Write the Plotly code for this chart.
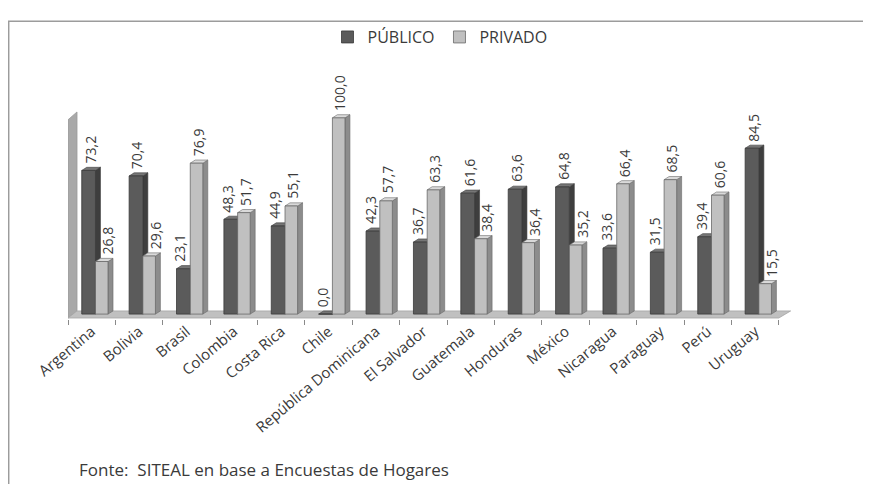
import plotly.graph_objects as go

categories = ["Argentina", "Bolivia", "Brasil", "Colombia", "Costa Rica", "Chile",
              "República Dominicana", "El Salvador", "Guatemala", "Honduras", "México",
              "Nicaragua", "Paraguay", "Perú", "Uruguay"]
publico = [73.2, 70.4, 23.1, 48.3, 44.9, 0.0, 42.3, 36.7, 61.6, 63.6, 64.8, 33.6, 31.5, 39.4, 84.5]
privado = [26.8, 29.6, 76.9, 51.7, 55.1, 100.0, 57.7, 63.3, 38.4, 36.4, 35.2, 66.4, 68.5, 60.6, 15.5]
series_names = ["PÚBLICO", "PRIVADO"]
source_text = "Fonte:  SITEAL en base a Encuestas de Hogares"

# the page body adds an 8px margin, so the figure is 8px smaller
PAGE_OFF = 8
W, H = 871 - PAGE_OFF, 484 - PAGE_OFF
L, T = 60, 99
PLOT_W, PLOT_H = 725, 212
XR = [-0.5, 14.8]
YR = [-2.5, 104]
FONT = "'Open Sans', Lato, sans-serif"
TXT = "#3a3a3a"

def fmt(v):
    return f"{v:.1f}".replace(".", ",")

def px_x(px):
    return (px - PAGE_OFF - L) / PLOT_W

def px_y(py):
    return (T + PLOT_H - (py - PAGE_OFF)) / PLOT_H

specs = [
    dict(vals=publico, other=privado, off=-0.21, w=0.29, front="#5b5b5b", side="#3e3e3e",
         top="#767676", line="#3a3a3a", shift_low=-0.07, shift_high=0.03),
    dict(vals=privado, other=publico, off=0.08, w=0.265, front="#c0c0c0", side="#8c8c8c",
         top="#dadada", line="#6a6a6a", shift_low=0.13, shift_high=0.03),
]
DX, DY = 0.105, 1.6

fig = go.Figure()
shapes = []
annotations = []

# back wall and floor
shapes.append(dict(type="path", xref="x", yref="y", layer="below",
                   path="M -0.5 -2 L -0.5 99 L -0.31 103 L -0.31 1.6 Z",
                   fillcolor="#a9a9a9", line=dict(color="#9a9a9a", width=0.8)))
shapes.append(dict(type="path", xref="x", yref="y", layer="below",
                   path="M -0.5 -2 L 14.5 -2 L 14.75 1.6 L -0.31 1.6 Z",
                   fillcolor="#c0c0c0", line=dict(color="#a4a4a4", width=0.8)))

for s, name in zip(specs, series_names):
    fig.add_trace(go.Bar(
        x=categories, y=s["vals"], name=name,
        offset=s["off"], width=s["w"],
        marker=dict(color=s["front"], line=dict(color=s["line"], width=0.8)),
        cliponaxis=False,
    ))
    for j, (v, o) in enumerate(zip(s["vals"], s["other"])):
        x0 = j + s["off"]
        x1 = x0 + s["w"]
        shapes.append(dict(type="path", xref="x", yref="y", layer="below",
                           path=f"M {x1} 0 L {x1} {v} L {x1+DX} {v+DY} L {x1+DX} {DY} Z",
                           fillcolor=s["side"], line=dict(color=s["line"], width=0.6)))
        shapes.append(dict(type="path", xref="x", yref="y", layer="below",
                           path=f"M {x0} {v} L {x1} {v} L {x1+DX} {v+DY} L {x0+DX} {v+DY} Z",
                           fillcolor=s["top"], line=dict(color=s["line"], width=0.6)))
        shift = s["shift_low"] if v < o else s["shift_high"]
        annotations.append(dict(x=(x0 + x1) / 2 + shift, y=v, xref="x", yref="y",
                                text=fmt(v), textangle=-90, showarrow=False,
                                xanchor="center", yanchor="bottom", yshift=5,
                                font=dict(family=FONT, size=14, color=TXT)))

# outer frame (top and left edges)
shapes.append(dict(type="line", xref="paper", yref="paper",
                   x0=px_x(8), x1=px_x(880), y0=px_y(17), y1=px_y(17),
                   line=dict(color="#9c9c9c", width=1.5)))
shapes.append(dict(type="line", xref="paper", yref="paper",
                   x0=px_x(8.7), x1=px_x(8.7), y0=px_y(17), y1=px_y(490),
                   line=dict(color="#9c9c9c", width=1.5)))

annotations.append(dict(text=source_text, xref="paper", yref="paper",
                        x=px_x(77), y=px_y(472), xanchor="left", yanchor="middle",
                        showarrow=False, font=dict(family=FONT, size=17, color=TXT)))

fig.update_layout(
    width=W, height=H,
    margin=dict(l=L, r=W - L - PLOT_W, t=T, b=H - T - PLOT_H, pad=0),
    paper_bgcolor="white", plot_bgcolor="rgba(0,0,0,0)",
    barmode="group",
    shapes=shapes,
    annotations=annotations,
    showlegend=True,
    legend=dict(orientation="h", x=px_x(440), y=px_y(33), xanchor="center", yanchor="middle",
                font=dict(family=FONT, size=16, color=TXT), traceorder="normal",
                itemwidth=30, bgcolor="rgba(0,0,0,0)"),
    xaxis=dict(type="category", range=XR, tickson="boundaries", ticks="outside",
               ticklen=5, tickcolor="#8a8a8a", showline=False, showgrid=False,
               tickangle=-40, tickfont=dict(family=FONT, size=15, color=TXT)),
    yaxis=dict(range=YR, showgrid=False, showticklabels=False, zeroline=False,
               showline=False, ticks=""),
    hovermode=False,
)

fig.write_html("out.html")
